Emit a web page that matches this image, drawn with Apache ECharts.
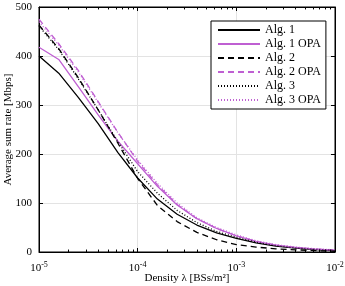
<!DOCTYPE html>
<html><head><meta charset="utf-8">
<script src="https://cdn.jsdelivr.net/npm/echarts@6/dist/echarts.min.js"></script>
<style>html,body{margin:0;padding:0;background:#fff}#c{width:345px;height:286px}</style>
</head><body><div id="c"></div>
<script>
// Densities (BSs/m^2), 5 samples per decade
const lambdas = [1e-5, 1.585e-5, 2.512e-5, 3.981e-5, 6.310e-5, 1e-4, 1.585e-4, 2.512e-4, 3.981e-4, 6.310e-4, 1e-3, 1.585e-3, 2.512e-3, 3.981e-3, 6.310e-3, 1e-2];
const alg1    = [400, 365, 315, 262, 203, 151, 108, 77, 55, 39, 28, 18.5, 12, 7.8, 5, 3];
const alg1OPA = [418, 393, 337, 280, 226, 180, 134, 96, 68, 48, 33, 21.5, 14, 9.3, 6, 4];
const alg2    = [463, 415, 355, 290, 222, 150, 95, 62, 40, 25, 15, 10, 6.5, 4.5, 2.8, 1.5];
const alg2OPA = [475, 425, 370, 307, 244, 185, 137, 97, 68, 48, 33, 21.5, 14, 9.3, 6, 4];
const alg3    = [461, 413, 353, 290, 225, 164, 120, 85, 60, 42, 30, 20, 13, 8.5, 5.5, 3.5];
const alg3OPA = [470, 422, 367, 305, 243, 188, 140, 100, 70, 50, 35, 23, 15, 10, 6.5, 4.5];
const seriesNames = ['Alg. 1', 'Alg. 1 OPA', 'Alg. 2', 'Alg. 2 OPA', 'Alg. 3', 'Alg. 3 OPA'];
const yTicks = [0, 100, 200, 300, 400, 500];

const FONT = 'Liberation Serif';
const PURPLE = '#bf5fd2';
const X_MIN = 1e-5, X_MAX = 1e-2;
const pair = arr => lambdas.map((x, i) => [x, arr[i]]);

// minor tick positions 2..9 x 10^k
const minor = [];
for (let e = -5; e < -2; e++) for (let m = 2; m <= 9; m++) minor.push(m * Math.pow(10, e));

const gridLines = minor.map(v => ({ xAxis: v }));
const tickMarks = [];
minor.forEach(v => {
  tickMarks.push([{ coord: [v, 0] }, { coord: [v, 5] }]);
  tickMarks.push([{ coord: [v, 500] }, { coord: [v, 495] }]);
});
// right frame edge and its inward ticks
tickMarks.push([{ coord: [X_MAX, 0] }, { coord: [X_MAX, 500] }]);
yTicks.slice(1, -1).forEach(v => tickMarks.push([{ coord: [X_MAX * 0.91, v] }, { coord: [X_MAX, v] }]));

function mk(name, data, color, type) {
  return {
    name, type: 'line', data: pair(data), symbol: 'none', smooth: false,
    lineStyle: { color, width: 1.3, type }, itemStyle: { color }, z: 3
  };
}

function frame() {
  return {
    show: true, gridIndex: 0,
    axisLine: { show: true, onZero: false, lineStyle: { color: '#000', width: 1 } },
    axisTick: { show: true, inside: true, length: 4, lineStyle: { color: '#000' } }
  };
}

const chart = echarts.init(document.getElementById('c'), null, { renderer: 'canvas' });
chart.setOption({
  animation: false,
  backgroundColor: '#fff',
  textStyle: { fontFamily: FONT },
  grid: { show: true, borderColor: '#000', borderWidth: 1, backgroundColor: 'transparent',
          left: 39, right: 10, top: 7, bottom: 34, containLabel: false, outerBoundsMode: 'none' },
  legend: {
    orient: 'vertical', left: 211, top: 21,
    data: seriesNames,
    backgroundColor: '#fff', borderColor: '#000', borderWidth: 1,
    padding: [2, 5, 2, 6], itemGap: 0, itemWidth: 42, itemHeight: 10,
    itemStyle: { opacity: 0 },
    textStyle: { fontFamily: FONT, fontSize: 12, color: '#000', lineHeight: 14 }
  },
  xAxis: [Object.assign({
    type: 'log', logBase: 10, min: X_MIN, max: X_MAX, interval: 1,
    name: 'Density λ [BSs/m²]', nameLocation: 'middle', nameGap: 21, nameMoveOverlap: false,
    nameTextStyle: { fontFamily: FONT, fontSize: 11, color: '#000' },
    axisLabel: {
      margin: 9, color: '#000',
      formatter: v => '{b|10}{s|' + Math.round(Math.log10(v)) + '}',
      rich: {
        b: { fontFamily: FONT, fontSize: 11, color: '#000', verticalAlign: 'bottom' },
        s: { fontFamily: FONT, fontSize: 8, color: '#000', verticalAlign: 'bottom', padding: [0, 0, 5, 0] }
      }
    },
    splitLine: { show: true, lineStyle: { color: '#e3e3e3', width: 1 } }
  }, frame()), Object.assign({
    type: 'log', logBase: 10, min: X_MIN, max: X_MAX, interval: 1, position: 'top',
    axisLabel: { show: false }, splitLine: { show: false }
  }, frame())],
  yAxis: [Object.assign({
    type: 'value', min: 0, max: 500, interval: 100, position: 'left',
    name: 'Average sum rate [Mbps]', nameLocation: 'middle', nameGap: 25, nameMoveOverlap: false,
    nameTextStyle: { fontFamily: FONT, fontSize: 11, color: '#000' },
    axisLabel: { margin: 7, color: '#000', fontFamily: FONT, fontSize: 11,
      formatter: v => yTicks.includes(v) ? String(v) : '' },
    splitLine: { show: true, lineStyle: { color: '#e3e3e3', width: 1 } }
  }, frame()), Object.assign({
    type: 'value', min: 0, max: 500, interval: 100, position: 'right',
    axisLabel: { show: false }, splitLine: { show: false }
  }, frame())],
  series: [
    {
      name: '_grid', type: 'line', data: [[X_MIN, 0]], symbol: 'none', silent: true, z: 1,
      xAxisIndex: 1, yAxisIndex: 1,
      lineStyle: { width: 0 },
      markLine: {
        silent: true, symbol: 'none', label: { show: false }, animation: false,
        lineStyle: { color: '#c8c8c8', width: 1, type: [1, 2] },
        data: gridLines
      }
    },
    {
      name: '_ticks', type: 'line', data: [[X_MIN, 0]], symbol: 'none', silent: true, z: 4,
      lineStyle: { width: 0 },
      markLine: {
        silent: true, symbol: 'none', label: { show: false }, animation: false,
        lineStyle: { color: '#000', width: 1, type: 'solid' },
        data: tickMarks
      }
    },
    mk('Alg. 1', alg1, '#000', 'solid'),
    mk('Alg. 1 OPA', alg1OPA, PURPLE, 'solid'),
    mk('Alg. 2', alg2, '#000', [6, 4]),
    mk('Alg. 2 OPA', alg2OPA, PURPLE, [6, 4]),
    mk('Alg. 3', alg3, '#000', [1, 2]),
    mk('Alg. 3 OPA', alg3OPA, PURPLE, [1, 2])
  ]
});
</script></body></html>
